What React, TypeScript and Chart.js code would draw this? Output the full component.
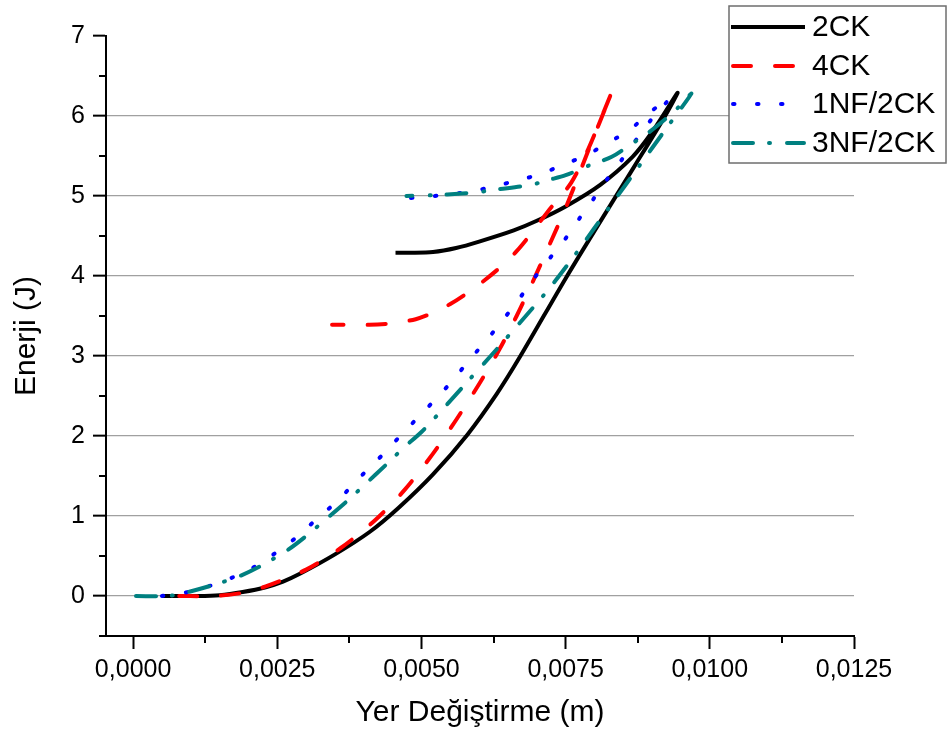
import React, { useEffect, useRef } from "react";
import { Chart, registerables } from "chart.js";

Chart.register(...registerables);

// ---- Data ----
const seriesNames = ["2CK", "4CK", "1NF/2CK", "3NF/2CK"];

const ck2X = [0.0005, 0.0011, 0.0015, 0.0019, 0.0023, 0.0026, 0.0029, 0.0035, 0.0041, 0.0046, 0.0052, 0.0058, 0.0063, 0.0067, 0.0075, 0.0081, 0.0087, 0.0092, 0.00944, 0.009, 0.00866, 0.0081, 0.0075, 0.007, 0.0066, 0.006, 0.0056, 0.0052, 0.0048, 0.00455];
const ck2Y = [0, 0, 0.01, 0.05, 0.11, 0.18, 0.28, 0.52, 0.8, 1.1, 1.52, 2.02, 2.52, 2.98, 3.97, 4.68, 5.38, 5.97, 6.29, 5.8, 5.49, 5.14, 4.87, 4.69, 4.57, 4.43, 4.35, 4.3, 4.29, 4.29];

const ck4X = [0.0008, 0.0014, 0.0019, 0.0023, 0.003, 0.0036, 0.0042, 0.0047, 0.0052, 0.0056, 0.006, 0.00635, 0.00665, 0.0069, 0.0072, 0.0075, 0.0079, 0.0083, 0.0079, 0.0076, 0.00734, 0.0071, 0.00688, 0.00665, 0.0064, 0.0061, 0.0058, 0.0055, 0.0052, 0.0049, 0.0045, 0.0041, 0.00345];
const ck4Y = [0, 0, 0.04, 0.12, 0.33, 0.6, 0.95, 1.32, 1.78, 2.2, 2.65, 3.08, 3.5, 3.88, 4.36, 4.85, 5.58, 6.3, 5.6, 5.17, 4.94, 4.72, 4.51, 4.31, 4.13, 3.95, 3.79, 3.65, 3.54, 3.46, 3.41, 3.39, 3.39];

const nf1X = [0.0005, 0.00095, 0.00139, 0.00178, 0.00217, 0.00251, 0.00286, 0.00318, 0.0035, 0.0038, 0.00409, 0.00439, 0.00468, 0.00498, 0.00527, 0.00556, 0.00583, 0.00612, 0.0064, 0.00667, 0.00693, 0.0072, 0.00748, 0.00772, 0.00798, 0.00822, 0.00848, 0.00874, 0.009, 0.0093, 0.00895, 0.0086, 0.00822, 0.00786, 0.00745, 0.00705, 0.00663, 0.00621, 0.00578, 0.00535, 0.00492, 0.0045];
const nf1Y = [0, 0.05, 0.14, 0.25, 0.39, 0.56, 0.75, 0.96, 1.16, 1.38, 1.6, 1.81, 2.04, 2.26, 2.48, 2.71, 2.95, 3.19, 3.44, 3.69, 3.95, 4.2, 4.45, 4.7, 4.96, 5.21, 5.46, 5.72, 5.97, 6.22, 6.04, 5.82, 5.66, 5.51, 5.39, 5.27, 5.19, 5.11, 5.05, 5.01, 4.98, 4.97];

const nf3X = [0.00005, 0.0006, 0.0009, 0.0014, 0.00185, 0.0022, 0.00267, 0.00295, 0.00336, 0.0037, 0.004, 0.0044, 0.0047, 0.005, 0.0054, 0.0058, 0.0062, 0.0067, 0.0072, 0.0077, 0.008, 0.0083, 0.0088, 0.0092, 0.00968, 0.0094, 0.00895, 0.0086, 0.0083, 0.0079, 0.0075, 0.0072, 0.0069, 0.0063, 0.006, 0.0057, 0.0052, 0.00474];
const nf3Y = [0, 0, 0.04, 0.14, 0.25, 0.37, 0.57, 0.72, 0.97, 1.18, 1.38, 1.65, 1.86, 2.05, 2.36, 2.68, 3.0, 3.41, 3.83, 4.3, 4.6, 4.9, 5.4, 5.8, 6.28, 6.07, 5.8, 5.63, 5.49, 5.38, 5.26, 5.2, 5.14, 5.08, 5.05, 5.03, 5.01, 5.0];

const xTickValues = [0, 0.0025, 0.005, 0.0075, 0.01, 0.0125];
const xMinorValues = [0.00125, 0.00375, 0.00625, 0.00875, 0.01125];
const yTickValues = [0, 1, 2, 3, 4, 5, 6, 7];
const yMinorValues = [-0.5, 0.5, 1.5, 2.5, 3.5, 4.5, 5.5, 6.5];

const FONT = "'Liberation Sans', Arial, sans-serif";

const colors = ["#000000", "#FF0000", "#0000FF", "#008080"];
const dashes: number[][] = [[], [18, 24], [1.5, 22.5], [20, 16, 1, 17]];

function toPoints(xs: number[], ys: number[]) {
  return xs.map((x, i) => ({ x, y: ys[i] }));
}

const minorTicksPlugin = {
  id: "minorTicks",
  afterDraw(chart: any) {
    const { ctx, scales } = chart;
    const xs = scales.x;
    const ys = scales.y;
    ctx.save();
    ctx.strokeStyle = "#000";
    ctx.lineWidth = 2;
    ctx.beginPath();
    for (const v of xMinorValues) {
      const px = Math.round(xs.getPixelForValue(v));
      ctx.moveTo(px, xs.top);
      ctx.lineTo(px, xs.top + 7);
    }
    for (const v of yMinorValues) {
      const py = Math.round(ys.getPixelForValue(v));
      ctx.moveTo(ys.right, py);
      ctx.lineTo(ys.right - 7, py);
    }
    ctx.stroke();
    ctx.restore();
  },
};

const legendPlugin = {
  id: "customLegend",
  afterDraw(chart: any) {
    const { ctx } = chart;
    const bx = 729, by = 6, bw = 217, bh = 157;
    ctx.save();
    ctx.fillStyle = "#ffffff";
    ctx.fillRect(bx, by, bw, bh);
    ctx.strokeStyle = "#6e6e6e";
    ctx.lineWidth = 1.5;
    ctx.strokeRect(bx, by, bw, bh);
    const rows = [27, 66, 104, 143];
    seriesNames.forEach((name, i) => {
      const y = rows[i];
      ctx.beginPath();
      ctx.strokeStyle = colors[i];
      ctx.lineWidth = 4;
      ctx.lineCap = i === 0 ? "butt" : "round";
      ctx.setLineDash(dashes[i]);
      ctx.moveTo(i === 0 ? 731 : 733, y);
      ctx.lineTo(i === 0 ? 805 : 804, y);
      ctx.stroke();
      ctx.setLineDash([]);
      ctx.fillStyle = "#000";
      ctx.font = `30px ${FONT}`;
      ctx.textBaseline = "middle";
      ctx.textAlign = "left";
      ctx.fillText(name, 812, y + 1);
    });
    ctx.restore();
  },
};

export default function App() {
  const canvasRef = useRef<HTMLCanvasElement | null>(null);

  useEffect(() => {
    if (!canvasRef.current) return;
    const allX = [ck2X, ck4X, nf1X, nf3X];
    const allY = [ck2Y, ck4Y, nf1Y, nf3Y];
    const datasets = seriesNames.map((name, i) => ({
      label: name,
      data: toPoints(allX[i], allY[i]),
      borderColor: colors[i],
      backgroundColor: colors[i],
      borderWidth: 4,
      borderDash: dashes[i],
      borderCapStyle: i === 0 ? "butt" : "round",
      borderJoinStyle: "round",
      pointRadius: 0,
      tension: 0.3,
      fill: false,
      showLine: true,
      order: 3 - i,
    }));

    const chart = new Chart(canvasRef.current, {
      type: "scatter",
      data: { datasets: datasets as any },
      options: {
        animation: false,
        responsive: true,
        maintainAspectRatio: false,
        layout: { padding: { top: 36, right: 98, left: 0, bottom: 0 } },
        plugins: { legend: { display: false }, tooltip: { enabled: false } },
        scales: {
          x: {
            type: "linear",
            min: -0.00047,
            max: 0.0125,
            afterBuildTicks: (scale: any) => {
              scale.ticks = xTickValues.map((v) => ({ value: v }));
            },
            afterFit: (scale: any) => {
              scale.height = 99;
            },
            ticks: {
              color: "#000",
              font: { family: FONT, size: 25 },
              padding: 6,
              maxRotation: 0,
              callback: (v: any) => Number(v).toFixed(4).replace(".", ","),
            },
            grid: {
              drawOnChartArea: false,
              drawTicks: true,
              tickLength: 13,
              tickColor: "#000",
              tickWidth: 2,
            },
            border: { color: "#000", width: 2 },
            title: {
              display: true,
              text: "Yer Değiştirme (m)",
              color: "#000",
              font: { family: FONT, size: 30 },
              padding: { top: 0, bottom: 4 },
            },
          },
          y: {
            type: "linear",
            min: -0.5,
            max: 7,
            afterBuildTicks: (scale: any) => {
              scale.ticks = yTickValues.map((v) => ({ value: v }));
            },
            afterFit: (scale: any) => {
              scale.width = 106;
            },
            ticks: {
              color: "#000",
              font: { family: FONT, size: 25 },
              padding: 8,
              callback: (v: any) => String(v),
            },
            grid: {
              color: (c: any) => (c.tick && c.tick.value === 7 ? "rgba(0,0,0,0)" : "#a0a0a0"),
              lineWidth: 1.3,
              drawTicks: true,
              tickLength: 13,
              tickColor: "#000",
              tickWidth: 2,
            },
            border: { color: "#000", width: 2 },
            title: {
              display: true,
              text: "Enerji (J)",
              color: "#000",
              font: { family: FONT, size: 30 },
              padding: { top: 9, bottom: 0 },
            },
          },
        },
      },
      plugins: [minorTicksPlugin, legendPlugin],
    });
    return () => chart.destroy();
  }, []);

  return (
    <div style={{ position: "fixed", left: 0, top: 0, width: 952, height: 735, background: "#fff" }}>
      <canvas ref={canvasRef} />
    </div>
  );
}
